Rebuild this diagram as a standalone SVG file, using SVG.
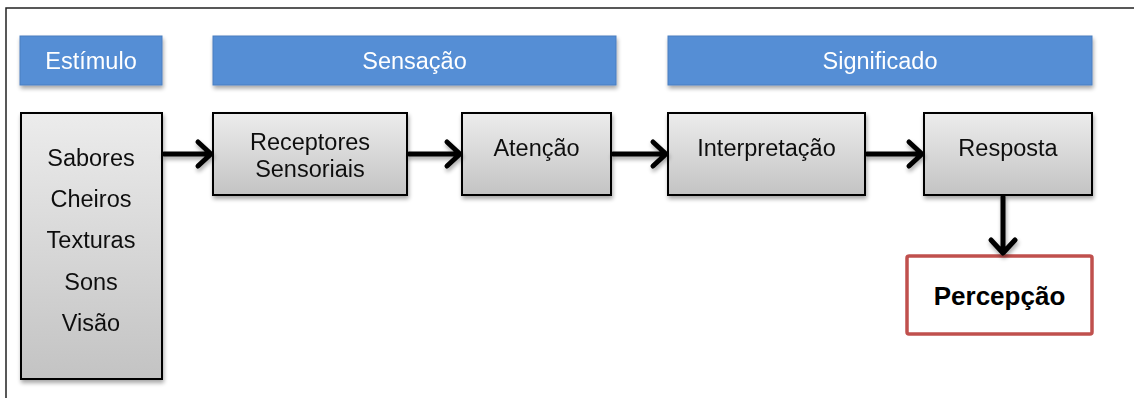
<svg xmlns="http://www.w3.org/2000/svg" width="1134" height="398" viewBox="0 0 1134 398">
  <defs>
    <linearGradient id="boxFill" x1="0" y1="0" x2="0" y2="1">
      <stop offset="0" stop-color="#ececec"/>
      <stop offset="1" stop-color="#c3c3c3"/>
    </linearGradient>
    <filter id="shadow" x="-10%" y="-10%" width="125%" height="130%">
      <feGaussianBlur in="SourceAlpha" stdDeviation="2"/>
      <feOffset dx="1" dy="3" result="b"/>
      <feComponentTransfer><feFuncA type="linear" slope="0.35"/></feComponentTransfer>
      <feMerge><feMergeNode/><feMergeNode in="SourceGraphic"/></feMerge>
    </filter>
  </defs>
  <style>
    .hdr { fill: #558ed5; stroke: #4a7fc0; stroke-width: 1; }
    .hdr-t { font-family: "Liberation Sans", Arial, sans-serif; font-size: 23.5px; fill: #ffffff; text-anchor: middle; }
    .box { fill: url(#boxFill); stroke: #000000; stroke-width: 2; }
    .box-t { font-family: "Liberation Sans", Arial, sans-serif; font-size: 23.5px; fill: #111111; text-anchor: middle; }
    .out { fill: #ffffff; stroke: #c0504d; stroke-width: 3.5; }
    .out-t { font-family: "Liberation Sans", Arial, sans-serif; font-size: 26px; font-weight: bold; fill: #000000; text-anchor: middle; }
    .conn { fill: none; stroke: #000000; stroke-width: 5; stroke-linecap: round; stroke-linejoin: round; }
  </style>

  <rect width="1134" height="398" fill="#ffffff"/>
  <!-- outer frame -->
  <rect x="6" y="8" width="1140" height="400" fill="none" stroke="#222222" stroke-width="1.5"/>

  <!-- stage headers -->
  <g id="hdr-estimulo" filter="url(#shadow)">
    <rect class="hdr" x="20" y="36" width="142" height="49"/>
    <text class="hdr-t" x="91" y="69">Estímulo</text>
  </g>
  <g id="hdr-sensacao" filter="url(#shadow)">
    <rect class="hdr" x="213" y="36" width="403" height="49"/>
    <text class="hdr-t" x="414.5" y="69">Sensação</text>
  </g>
  <g id="hdr-significado" filter="url(#shadow)">
    <rect class="hdr" x="668" y="36" width="424" height="49"/>
    <text class="hdr-t" x="880" y="69">Significado</text>
  </g>

  <!-- process nodes -->
  <g id="estimulos" filter="url(#shadow)">
    <rect class="box" x="21" y="113" width="141" height="266"/>
    <text class="box-t" x="91" y="166">Sabores</text>
    <text class="box-t" x="91" y="207">Cheiros</text>
    <text class="box-t" x="91" y="248">Texturas</text>
    <text class="box-t" x="91" y="290">Sons</text>
    <text class="box-t" x="91" y="331">Visão</text>
  </g>
  <g id="receptores" filter="url(#shadow)">
    <rect class="box" x="213" y="113" width="194" height="82"/>
    <text class="box-t" x="310" y="150">Receptores</text>
    <text class="box-t" x="310" y="177">Sensoriais</text>
  </g>
  <g id="atencao" filter="url(#shadow)">
    <rect class="box" x="462" y="113" width="149" height="82"/>
    <text class="box-t" x="536.5" y="156">Atenção</text>
  </g>
  <g id="interpretacao" filter="url(#shadow)">
    <rect class="box" x="668" y="113" width="197" height="82"/>
    <text class="box-t" x="766.5" y="156">Interpretação</text>
  </g>
  <g id="resposta" filter="url(#shadow)">
    <rect class="box" x="924" y="113" width="168" height="82"/>
    <text class="box-t" x="1008" y="156">Resposta</text>
  </g>
  <g id="percepcao">
    <rect class="out" x="907" y="256" width="185" height="78" rx="2"/>
    <text class="out-t" x="999.5" y="305">Percepção</text>
  </g>

  <!-- connectors -->
  <g id="connectors" filter="url(#shadow)">
    <path class="conn" d="M164 154 H210 M198 142 L211 154 L198 166"/>
    <path class="conn" d="M409 154 H459 M447 142 L460 154 L447 166"/>
    <path class="conn" d="M613 154 H665 M653 142 L666 154 L653 166"/>
    <path class="conn" d="M867 154 H921 M909 142 L922 154 L909 166"/>
    <path class="conn" d="M1003 197 V252 M991 240 L1003 253 L1015 240"/>
  </g>
</svg>
